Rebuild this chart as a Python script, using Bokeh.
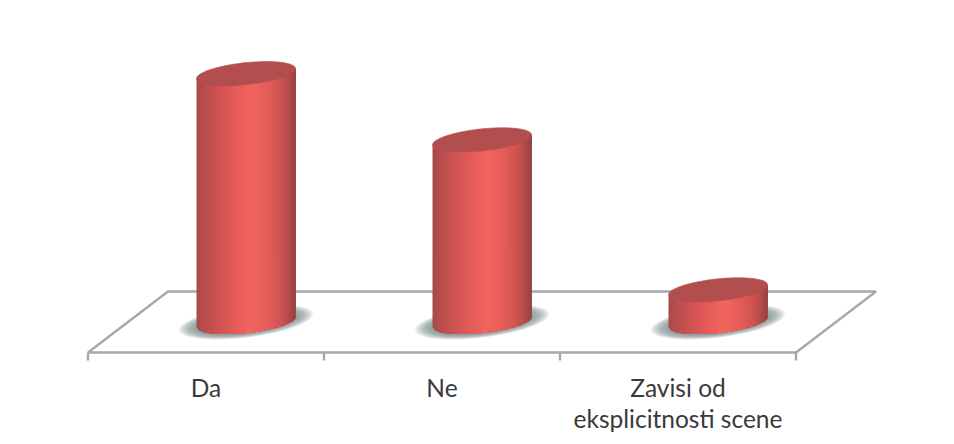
import numpy as np
from bokeh.core.properties import value
from bokeh.embed import file_html
from bokeh.models import Range1d
from bokeh.plotting import figure
from bokeh.resources import INLINE

# Survey answers and their shares
categories = ["Da", "Ne", "Zavisi od\neksplicitnosti scene"]
shares = [54, 39.6, 7]

WIDTH, HEIGHT = 954, 444
PX_PER_CATEGORY = 236.0
PX_PER_UNIT = 4.6
ORIGIN_X, ORIGIN_Y = 245.5, 321.5   # canvas position of the first category at share 0

# Projection of the floor and the cylinder, in canvas pixels
DEPTH_X, DEPTH_Y = 40.0, 30.5
RADIUS_X, RADIUS_Y, TILT = 49.5, 11.0, 5.0


def dx(px):
    return px / PX_PER_CATEGORY


def dy(px):
    return px / PX_PER_UNIT


p = figure(
    width=WIDTH, height=HEIGHT, output_backend="svg", toolbar_location=None,
    x_range=Range1d(-ORIGIN_X / PX_PER_CATEGORY, (WIDTH - ORIGIN_X) / PX_PER_CATEGORY),
    y_range=Range1d(-(HEIGHT - ORIGIN_Y) / PX_PER_UNIT, ORIGIN_Y / PX_PER_UNIT),
    min_border=0, outline_line_color=None, background_fill_color="#ffffff",
)
p.axis.visible = False
p.grid.visible = False

n = len(categories)
AXIS_GREY = "#a2aaad"

# Floor outline
left, right = -0.5, n - 0.5
p.line(
    [left - dx(DEPTH_X), left + dx(DEPTH_X), right + dx(DEPTH_X), right - dx(DEPTH_X), left - dx(DEPTH_X)],
    [-dy(DEPTH_Y), dy(DEPTH_Y), dy(DEPTH_Y), -dy(DEPTH_Y), -dy(DEPTH_Y)],
    line_color=AXIS_GREY, line_width=2.4,
)

# Category tick marks on the front edge
for i in range(n + 1):
    tx = i - 0.5 - dx(DEPTH_X)
    p.line([tx, tx], [-dy(DEPTH_Y), -dy(DEPTH_Y + 8)], line_color=AXIS_GREY, line_width=2.4)


def ellipse(cx, cy, rx, ry, tilt, count=72):
    t = np.linspace(0, 2 * np.pi, count, endpoint=False)
    return (cx + dx(rx) * np.cos(t)), (cy + dy(ry) * np.sin(t) + dy(tilt) * np.cos(t))


def front_edge(u, cy):
    # Lower rim of a tilted ellipse at horizontal position u in [-1, 1]
    return cy + dy(TILT) * u - dy(RADIUS_Y) * np.sqrt(np.clip(1 - u * u, 0, 1))


def shade(u):
    # Horizontal lighting across the cylinder wall
    stops_u = [-1.0, -0.8, -0.5, -0.15, 0.1, 0.4, 0.65, 0.85, 1.0]
    stops_r = [168, 188, 212, 232, 243, 232, 212, 182, 150]
    stops_g = [74, 78, 85, 94, 100, 94, 85, 76, 68]
    stops_b = [74, 78, 84, 90, 95, 90, 84, 75, 68]
    r = np.interp(u, stops_u, stops_r)
    g = np.interp(u, stops_u, stops_g)
    b = np.interp(u, stops_u, stops_b)
    return "#%02x%02x%02x" % (int(r), int(g), int(b))


# Soft contact shadows on the floor
for i in range(n):
    for k in range(14):
        grow = 1.0 + 0.36 * (1 - k / 13)
        xs, ys = ellipse(i, 0, RADIUS_X * grow, RADIUS_Y * grow * 1.05, TILT * grow * 1.15)
        p.patch(xs, ys, fill_color="#7a898b", fill_alpha=0.1, line_color=None)

# Cylinders: each strip runs to the far side and is painted over by the next one,
# which keeps hairline gaps from showing between neighbours
STRIPS = 60
for i, share in enumerate(shares):
    edges = np.linspace(-1, 1, STRIPS + 1)
    for a, b in zip(edges[:-1], edges[1:]):
        us = np.linspace(a, 1, 40)
        lower = [front_edge(u, 0) for u in us]
        upper = [front_edge(u, share) for u in us]
        xs = i + dx(RADIUS_X) * us
        p.patch(
            np.concatenate([xs, xs[::-1]]), np.concatenate([lower, upper[::-1]]),
            fill_color=shade((a + b) / 2), line_color=None,
        )

    xs, ys = ellipse(i, share, RADIUS_X, RADIUS_Y, TILT)
    p.patch(xs, ys, fill_color="#b34e4e", line_color="#b34e4e", line_width=0.6)

# Category labels below the front edge
label_y, label_x, label_text = [], [], []
for i, name in enumerate(categories):
    lines = name.split("\n")
    for j, line in enumerate(lines):
        label_x.append(i - dx(DEPTH_X))
        label_y.append(-dy(65.5 + 31 * j))
        label_text.append(line)
p.text(
    label_x, label_y, text=label_text, text_font=value("Lato"), text_font_size="24.5px",
    text_color="#3a3a3a", text_align="center", text_baseline="middle",
)

open("out.html", "w").write(file_html(p, INLINE))
